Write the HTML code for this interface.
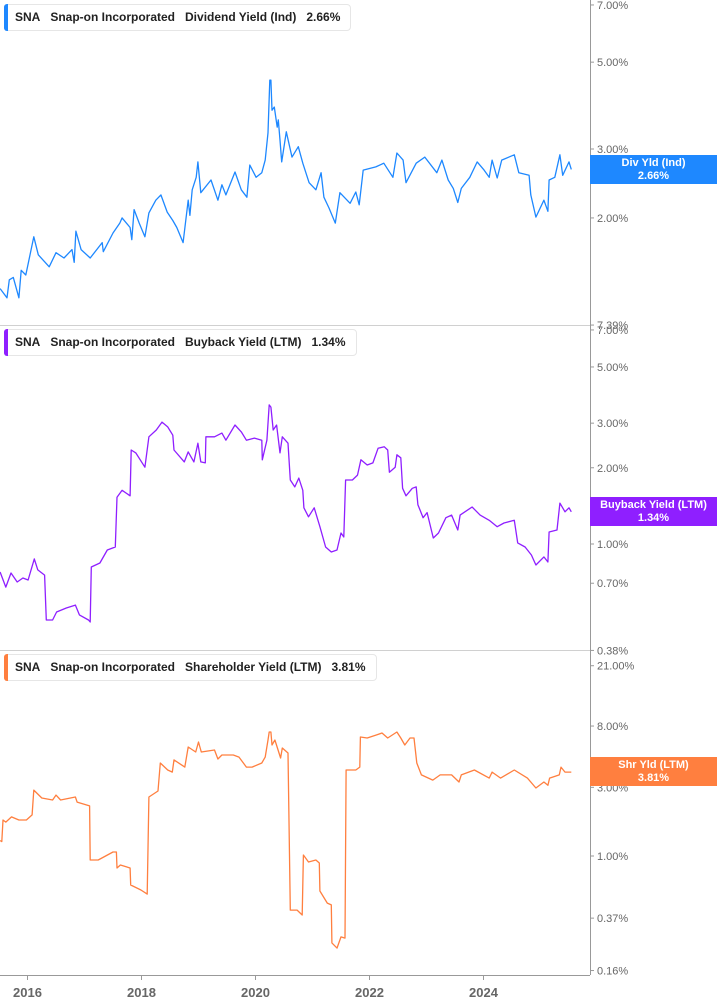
<!DOCTYPE html>
<html><head><meta charset="utf-8"><style>
body{margin:0;background:#fff;font-family:"Liberation Sans",sans-serif}
svg{display:block}
.hdr{position:absolute;height:25px;background:#fff;border:1px solid #e6e6e6;border-radius:4px;font-size:12px;font-weight:bold;color:#222;line-height:25px;white-space:nowrap;padding-left:10px;padding-right:10px}
.hdr i{position:absolute;left:-1px;top:-1px;bottom:-1px;width:4px;border-radius:3px 0 0 3px}
.hdr span{margin-right:10px}
.badge{position:absolute;left:590px;width:127px;height:29px;color:#fff;font-size:11px;font-weight:bold;text-align:center;line-height:13px;padding-top:2px;box-sizing:border-box}
</style></head><body>
<div style="position:relative;width:717px;height:1005px">
<svg id="c" width="717" height="1005"></svg>
<div class="hdr" style="left:4px;top:4px"><i style="background:#1e88ff"></i><span>SNA</span><span>Snap-on Incorporated</span><span style="font-weight:normal;font-weight:600">Dividend Yield (Ind)</span><span style="margin-right:0">2.66%</span></div>
<div class="hdr" style="left:4px;top:329px"><i style="background:#8f1fff"></i><span>SNA</span><span>Snap-on Incorporated</span><span>Buyback Yield (LTM)</span><span style="margin-right:0">1.34%</span></div>
<div class="hdr" style="left:4px;top:654px"><i style="background:#ff7f3f"></i><span>SNA</span><span>Snap-on Incorporated</span><span>Shareholder Yield (LTM)</span><span style="margin-right:0">3.81%</span></div>
<div class="badge" style="top:155px;background:#1e88ff">Div Yld (Ind)<br>2.66%</div>
<div class="badge" style="top:497px;background:#8f1fff">Buyback Yield (LTM)<br>1.34%</div>
<div class="badge" style="top:757px;background:#ff7f3f">Shr Yld (LTM)<br>3.81%</div>
</div>
<script>
const divDates=[2015.52,2015.64,2015.68,2015.75,2015.85,2015.89,2015.97,2016.11,2016.19,2016.38,2016.50,2016.64,2016.78,2016.82,2016.85,2016.94,2017.10,2017.31,2017.33,2017.50,2017.62,2017.66,2017.80,2017.83,2017.87,2017.96,2018.06,2018.13,2018.25,2018.34,2018.45,2018.55,2018.62,2018.73,2018.82,2018.85,2018.89,2018.96,2018.99,2019.04,2019.22,2019.34,2019.41,2019.48,2019.64,2019.75,2019.85,2019.90,2020.01,2020.11,2020.17,2020.22,2020.25,2020.27,2020.29,2020.33,2020.38,2020.40,2020.43,2020.46,2020.54,2020.64,2020.75,2020.83,2020.94,2021.06,2021.15,2021.20,2021.29,2021.40,2021.48,2021.66,2021.76,2021.82,2021.89,2022.11,2022.25,2022.41,2022.48,2022.59,2022.64,2022.82,2022.97,2023.18,2023.27,2023.38,2023.47,2023.55,2023.61,2023.76,2023.89,2024.01,2024.10,2024.15,2024.24,2024.32,2024.54,2024.62,2024.80,2024.83,2024.92,2025.06,2025.13,2025.15,2025.25,2025.34,2025.39,2025.50,2025.54];
const divValues=[1.32,1.25,1.39,1.41,1.25,1.47,1.43,1.79,1.61,1.50,1.63,1.58,1.66,1.54,1.85,1.66,1.58,1.73,1.64,1.83,1.94,2.00,1.89,1.76,2.10,1.94,1.79,2.06,2.22,2.29,2.07,1.97,1.89,1.73,2.22,2.03,2.36,2.54,2.78,2.32,2.50,2.22,2.43,2.29,2.62,2.36,2.26,2.73,2.54,2.61,2.81,3.30,4.50,4.50,3.77,3.84,3.41,3.56,3.16,2.78,3.32,2.86,3.04,2.76,2.46,2.36,2.61,2.26,2.12,1.94,2.32,2.18,2.33,2.16,2.65,2.70,2.76,2.54,2.93,2.81,2.46,2.76,2.86,2.61,2.81,2.50,2.38,2.19,2.38,2.54,2.78,2.65,2.54,2.81,2.53,2.81,2.90,2.61,2.57,2.29,2.01,2.22,2.08,2.50,2.54,2.90,2.57,2.78,2.66];
const bbDates=[2015.52,2015.62,2015.71,2015.82,2015.92,2016.01,2016.12,2016.18,2016.30,2016.33,2016.44,2016.51,2016.68,2016.84,2016.91,2017.07,2017.10,2017.12,2017.27,2017.40,2017.54,2017.57,2017.66,2017.80,2017.82,2017.90,2018.06,2018.13,2018.26,2018.36,2018.46,2018.55,2018.57,2018.75,2018.82,2018.92,2018.99,2019.04,2019.12,2019.13,2019.28,2019.41,2019.48,2019.64,2019.75,2019.84,2019.98,2020.11,2020.12,2020.20,2020.24,2020.27,2020.31,2020.37,2020.43,2020.47,2020.57,2020.61,2020.69,2020.76,2020.83,2020.85,2020.93,2021.03,2021.13,2021.23,2021.33,2021.43,2021.50,2021.55,2021.58,2021.70,2021.79,2021.85,2021.96,2022.06,2022.15,2022.26,2022.32,2022.35,2022.45,2022.48,2022.55,2022.58,2022.64,2022.75,2022.82,2022.85,2022.94,2023.01,2023.12,2023.21,2023.34,2023.44,2023.55,2023.59,2023.80,2023.94,2024.10,2024.24,2024.36,2024.54,2024.60,2024.73,2024.84,2024.92,2025.06,2025.13,2025.15,2025.29,2025.34,2025.43,2025.50,2025.54];
const bbValues=[0.775,0.676,0.768,0.708,0.734,0.721,0.873,0.790,0.754,0.501,0.501,0.539,0.559,0.574,0.525,0.501,0.492,0.811,0.841,0.947,0.973,1.53,1.63,1.55,2.35,2.29,2.01,2.65,2.82,3.03,2.90,2.69,2.35,2.11,2.31,2.11,2.50,2.11,2.09,2.65,2.65,2.74,2.57,2.95,2.77,2.57,2.62,2.57,2.15,2.57,3.54,3.47,2.82,2.95,2.29,2.65,2.50,1.79,1.68,1.82,1.63,1.39,1.28,1.39,1.17,0.973,0.930,0.947,1.105,1.066,1.79,1.79,1.87,2.15,2.05,2.09,2.39,2.42,2.35,1.92,2.01,2.25,2.19,1.66,1.55,1.66,1.68,1.43,1.27,1.33,1.056,1.105,1.27,1.30,1.136,1.30,1.40,1.30,1.24,1.17,1.21,1.24,1.01,0.973,0.905,0.826,0.889,0.849,1.115,1.136,1.45,1.34,1.39,1.34];
const shrDates=[2015.52,2015.55,2015.57,2015.62,2015.72,2015.85,2015.98,2016.08,2016.11,2016.25,2016.44,2016.50,2016.58,2016.84,2016.87,2017.09,2017.10,2017.24,2017.50,2017.56,2017.57,2017.63,2017.80,2017.81,2017.99,2018.10,2018.13,2018.29,2018.33,2018.46,2018.54,2018.57,2018.76,2018.82,2018.95,2019.00,2019.05,2019.28,2019.34,2019.41,2019.61,2019.71,2019.84,2019.94,2020.11,2020.17,2020.22,2020.24,2020.27,2020.29,2020.34,2020.44,2020.47,2020.57,2020.61,2020.73,2020.82,2020.84,2020.93,2021.06,2021.12,2021.13,2021.26,2021.33,2021.34,2021.43,2021.50,2021.57,2021.59,2021.76,2021.83,2021.84,2021.96,2022.12,2022.22,2022.32,2022.48,2022.55,2022.62,2022.71,2022.78,2022.83,2022.91,2023.11,2023.24,2023.44,2023.57,2023.61,2023.84,2024.10,2024.15,2024.30,2024.54,2024.77,2024.92,2025.06,2025.13,2025.16,2025.33,2025.36,2025.43,2025.54];
const shrValues=[1.28,1.26,1.78,1.72,1.87,1.78,1.78,1.93,2.87,2.53,2.45,2.65,2.45,2.57,2.37,2.23,0.938,0.938,1.066,1.066,0.825,0.866,0.825,0.629,0.580,0.544,2.57,2.83,4.43,3.96,3.83,4.65,4.15,5.72,5.28,6.20,5.28,5.45,4.72,5.03,5.03,4.87,4.15,4.15,4.43,4.87,6.40,7.27,7.27,5.91,6.40,4.80,5.63,5.20,0.421,0.421,0.389,1.016,0.908,0.938,0.894,0.571,0.471,0.457,0.249,0.229,0.274,0.269,3.96,3.96,4.15,6.71,6.61,6.93,7.16,6.61,7.27,6.61,5.91,6.61,6.61,4.43,3.66,3.37,3.66,3.66,3.27,3.66,3.96,3.48,3.83,3.48,3.96,3.48,2.97,3.27,3.10,3.48,3.66,4.15,3.83,3.83];
const yearTicks=[2016,2018,2020,2022,2024];
const divTicks=[7,5,3,2,1.065];
const divTickLabels=["7.00%","5.00%","3.00%","2.00%","7.39%"];
const bbTicks=[7,5,3,2,1,0.7,0.38];
const bbTickLabels=["7.00%","5.00%","3.00%","2.00%","1.00%","0.70%","0.38%"];
const shrTicks=[21,8,3,1,0.37,0.16];
const shrTickLabels=["21.00%","8.00%","3.00%","1.00%","0.37%","0.16%"];

const svg=document.getElementById('c');
const NS='http://www.w3.org/2000/svg';
function mk(tag,attrs,parent){const e=document.createElementNS(NS,tag);for(const k in attrs)e.setAttribute(k,attrs[k]);(parent||svg).appendChild(e);return e;}
const xS=d=>27.5+(d-2016)*57;
const panels=[
 {dates:divDates,vals:divValues,ticks:divTicks,labels:divTickLabels,color:'#1e88ff',y:v=>149-170*Math.log(v/3),name:'dividend-yield'},
 {dates:bbDates,vals:bbValues,ticks:bbTicks,labels:bbTickLabels,color:'#8f1fff',y:v=>544-110*Math.log(v),name:'buyback-yield'},
 {dates:shrDates,vals:shrValues,ticks:shrTicks,labels:shrTickLabels,color:'#ff7f3f',y:v=>856-62.5*Math.log(v),name:'shareholder-yield'}
];
// separators and axes
let l=mk('line',{x1:0,x2:590,y1:325.5,y2:325.5,stroke:'#d0d0d0'});


l=mk('line',{x1:0,x2:590,y1:650.5,y2:650.5,stroke:'#d0d0d0'});


l=mk('line',{x1:590.5,x2:590.5,y1:0,y2:975,stroke:'#999'});


l=mk('line',{x1:0,x2:590,y1:975.5,y2:975.5,stroke:'#999'});


yearTicks.forEach(yr=>{
 const x=xS(yr);
 const t=mk('line',{x1:x,x2:x,y1:975,y2:980,stroke:'#999'});
 
 
 const tx=mk('text',{x:x,y:997,'text-anchor':'middle','font-size':'13','font-weight':'bold',fill:'#666'});
 tx.textContent=String(yr);
 
 
});
panels.forEach(p=>{
 p.ticks.forEach((v,i)=>{
  const y=p.y(v);
  const t=mk('line',{x1:590,x2:594,y1:y,y2:y,stroke:'#999'});
  
  
  const tx=mk('text',{x:597,y:y+4,'font-size':'11',fill:'#666'});
  tx.textContent=p.labels[i];
  
  
 });
 const d=p.dates.map((dt,i)=>(i?'L':'M')+xS(dt).toFixed(1)+','+p.y(p.vals[i]).toFixed(1)).join('');
 const path=mk('path',{d:d,fill:'none',stroke:p.color,'stroke-width':'1.3','stroke-linejoin':'round'});
 
 
});
</script>
</body></html>
